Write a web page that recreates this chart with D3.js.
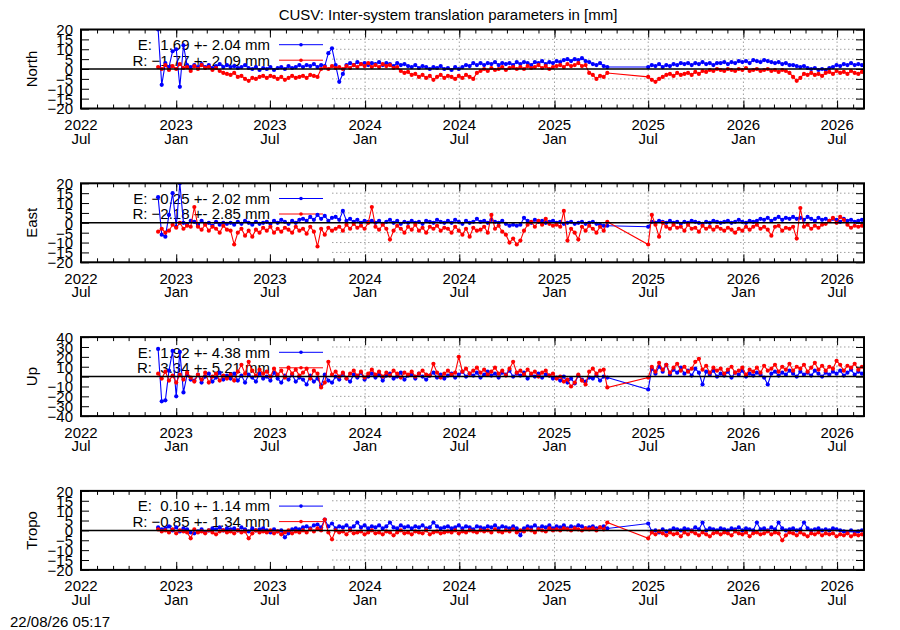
<!DOCTYPE html>
<html>
<head>
<meta charset="utf-8">
<script src="https://cdn.jsdelivr.net/npm/d3@7"></script>
<style>
  body { margin: 0; background: #fff; }
  text { font-family: "Liberation Sans", Arial, sans-serif; font-size: 15px; fill: #000; }
</style>
</head>
<body>
<div id="chart"></div>
<script>
// ---- data (roughly weekly samples) ----
var titleText = "CUSV: Inter-system translation parameters in [mm]";
var stampText = "22/08/26 05:17";
var panelNames = ["North", "East", "Up", "Tropo"];
var yLimits = [20, 20, 40, 20];
var ticks20 = [-20, -15, -10, -5, 0, 5, 10, 15, 20];
var ticks40 = [-40, -30, -20, -10, 0, 10, 20, 30, 40];
var xMajorLabels = ["2022-07", "2023-01", "2023-07", "2024-01", "2024-07", "2025-01", "2025-07", "2026-01", "2026-07"];

var eMean = [1.69, -0.25, 1.92, 0.10], eSd = [2.04, 2.02, 4.38, 1.14];
var rMean = [-1.77, -2.18, 3.34, -0.85], rSd = [2.09, 2.85, 5.21, 1.34];

// sampling dates: before and after the data gap
var seg1Dates = d3.timeDay.range(new Date(2022, 10, 27), new Date(2025, 3, 14), 7);
var seg2Dates = d3.timeDay.range(new Date(2025, 6, 1), new Date(2026, 7, 22), 7);

var northE1 = [20,-8,3,1,9,10,-9,12,2,1, 2,1,2.5,1,2,0.5,1.5,2.5,1,2, 1,1.5,0.5,1,2,0.5,0,1,-0.5,0.5,
  0,1,-0.5,0.5,1,0,1.5,0.5,1,2, 1,2,1.5,2.5,1,2,1.5,8,10.5,2, -6.5,-2.5,2,3,2,3.5,2.5,3,2,3,
  2.5,3.5,2,3,2.5,1.5,3,2,2.5,1.5, 1,2,0.5,1.5,1,0,1,0.5,1.5,0, 0.5,-0.5,1,0,1,2,1.5,3,2,3,
  2,3,2.5,3.5,2,3,2.5,3,2,3.5, 2.5,3.5,3,2,3.5,3,4,2.5,3.5,3, 4,3.5,4.5,5,4,5,4.5,5.5,4,3.5, 2.5,2,3,1.5,1];
var northE2 = [1,2,1.5,2.5,1,2,1.5,2.5,2,3, 2.5,3,2,3,2.5,3.5,2.5,3,2,3, 3,3.5,2.5,3.5,3,4,3.5,4,3,4.5,
  4,3.5,4.5,4,3.5,3,3.5,2.5,3,2, 2,1.5,1,1.5,0.5,0,0.5,-0.5,0,-0.5, 0.5,1,2,1.5,2.5,2,3,2,2.5,2];
var northR1 = [1,0,2,-0.5,1.5,0,2.5,0.5,1,-1, 1.5,0,2,0.5,1,-0.5,0.5,-1,-2,-2.5, -3,-2,-4,-3.5,-5,-6,-4.5,-5,-4,-3.5,
  -4.5,-3.5,-4,-5,-4,-5.5,-4.5,-3.5,-4.5,-4, -3.5,-4.5,-3,-3.5,-4,0,1,0,1.5,0.5, 1,0,1.5,0.5,2,1,2.5,1.5,3,1,
  2,1,2.5,1.5,2,0.5,1,-1,-2,-1.5, -3,-2.5,-4,-3,-4.5,-3.5,-5.5,-4,-3,-4.5, -3.5,-4,-5,-3.5,-4.5,-3,-4,-5,-2,-1,
  0,-1,0.5,-0.5,0,1,-0.5,0.5,1,0, 1,0,1.5,0.5,1,2,0.5,1.5,0,1, 1.5,2,1,2.5,1.5,2,3,1.5,2,-2, -3,-5,-3.5,-4,-2];
var northR2 = [-4,-5.5,-6.5,-5,-4,-3,-2.5,-3.5,-2,-3, -2.5,-2,-3,-1.5,-2.5,-1,-1.5,-0.5,-1,0, -0.5,-1,0,-0.5,-1,0,-0.5,0.5,-1,-0.5,
  0,-1,-0.5,0,-1,-0.5,-1.5,-0.5,-1,-2, -4,-6,-4.5,-2.5,-3,-2,-3,-2.5,-3.5,-2, -1.5,-2.5,-1,-2,-1.5,-2.5,-1,-2,-2.5,-1.5];

var eastE1 = [13,-6,-7,4,15,-2,20,0,-1,1, 0.5,-1,1,-0.5,0,-1.5,0.5,-1,0,-0.5, 0,-1,0.5,-0.5,1,0,-1,0.5,-0.5,0,
  0.5,-0.5,1,0,1.5,0.5,-0.5,1,0,1.5, 2,1,3,1.5,4,2,3.5,1,2.5,3, 1.5,6,1,2,0.5,1.5,0,1,0.5,1,
  0,1,-0.5,0.5,1.5,0,1,-0.5,0.5,0, 1,0,0.5,-0.5,1,0.5,0,1.5,0.5,0, 1,0,1.5,0.5,-0.5,1,0,0.5,2,0.5,
  1,0,1.5,0.5,0,1,-0.5,-1.5,-1,-1.5, -1,2.5,1,0,1.5,0.5,1,0,0.5,1, 0,0.5,-0.5,0,0.5,-0.5,0,0.5,-0.5,0, 0.5,-0.5,-1,-1.5,-1.5];
var eastE2 = [-2,0.5,0,1,0.5,0,1,0,0.5,-0.5, 0.5,0,1,0.5,0,-0.5,0.5,0,1,0.5, 0,0.5,1,0,0.5,1.5,0.5,0,1,0.5,
  1,2,1.5,2.5,1,2,3,1.5,2.5,2, 3,2,2.5,1.5,3,2,1,2.5,1.5,2, 1,2,1.5,0.5,2,1,1.5,0.5,1,1.5];
var eastR1 = [-4.5,-3,-5,-4,-1,-2.5,0,-3,-1.5,-2, 8,-2,-3.5,-1,-4,-2,-3,-5,-1.5,-3.5, -4,-11,-5,-3,-6.5,-4,-7,-3.5,-5,-2.5,
  -4,-2,-5,-3,-4.5,-2.5,-3.5,-5,-2,-4, -3,-5.5,-2,-4.5,-12,-3,-6,-2.5,-4,-3, -2,-4,-1,-3,-0.5,-2.5,-1.5,-3,0,8,
  -2,-3.5,-1,-3,-8.5,-4,-1.5,-3,-5,-2, -3.5,-1,-4,-2.5,-5,-2,-3,-1.5,-4,-2.5, -3,-5,-2,-4,-6,-3,-7,-2.5,-4,-3.5,
  -2,-5,4,-3,-1.5,-4.5,-6,-10,-8,-11, -9,-4,-1,0.5,-2,1,-1,2,-0.5,-1.5, -1,-2,6,-9,-3,-5,-8.5,-2,-4,-1.5, -3,-5,-2,-4,0.5];
var eastR2 = [-11,4,-1,-7,0,-2,-3,-1,-2.5,-2, -4,-1,-3,-2.5,-4.5,-1.5,-3,-2,-3.5,-2, -3,-4,-2.5,-3.5,-5,-3,-4,-2,-3.5,-2,
  -1,-3,-2,-3.5,-6.5,-2,-1.5,-4,-2.5,-3, -2,-8,7.5,-2,-1,-3,-1.5,-2.5,-1,-0.5, 1,2.5,0,3,1.5,-1,-2.5,-1.5,-2,-1.5];

var upE1 = [28,-25,-24,6,26,-20,25,-16,2,-3, -4,2,-6,0,3,-5,-1,4,-3,1, -2,3,-4,1,-6,2,-1,-5,3,-2,
  0,-4,4,-2,-6,1,-3,2,-5,-1, -3,-8,1,-5,-2,-9,2,-4,-6,0, -3,3,-2,-5,2,-1,4,-3,0,3,
  -1,2,-4,1,3,-2,0,4,-3,1, 2,-2,3,0,-3,1,4,-1,2,-2, 1,3,-1,2,5,0,3,1,4,-1,
  2,5,1,3,-1,4,2,6,0,3, 1,4,-2,2,0,3,-1,2,1,-2, -1,-4,0,-6,-2,-7,1,-3,-5,-1, -2,1,-4,0,-1];
var upE2 = [-13,8,3,10,5,12,2,7,4,9, 3,6,1,8,4,-8,5,2,6,0, 3,1,5,-1,4,2,6,0,3,1,
  4,2,-1,-8,3,5,1,4,2,6, 3,0,5,2,4,1,6,3,0,4, 2,5,3,6,1,4,7,2,5,3];
var upR1 = [3,-2,5,-4,1,-6,2,-3,4,-1, -5,2,-3,4,-6,0,3,-4,1,-2, 2,-4,5,12,3,15,6,1,7,3,
  5,0,8,2,6,-1,9,3,7,1, 4,8,-2,6,3,-11,-6,15,2,5, 0,4,-2,3,6,1,5,-1,3,7,
  2,5,0,4,1,6,3,-1,4,2, 5,0,3,6,2,1,13,4,-1,3, 6,2,4,20,5,8,3,6,9,4,
  7,2,5,9,3,6,1,8,15,4, 6,2,7,3,5,0,4,6,1,3, -2,0,-5,-3,-10,-6,2,-4,-8,5, 8,3,6,7,-11];
var upR2 = [-1,10,5,14,7,12,4,9,13,6, 10,5,8,15,18,7,11,4,9,6, 8,3,7,10,4,6,9,2,7,5,
  9,4,11,6,8,12,5,10,7,13, 6,10,8,12,5,9,14,7,11,6, 10,8,16,12,6,11,9,13,7,10];

var tropoE1 = [1.5,0.5,1,2,0,1.5,-0.5,1,0.5,-1, -1.5,-0.5,0.5,-1,0,1,0.5,1.5,0,1, 0.5,1,0,1.5,0.5,-0.5,1,0,0.5,1,
  0,-1,0.5,-0.5,0,-3.5,-1.5,0.5,1,0.5, 1.5,2,1,2.5,3,1.5,5.5,2,3.5,1, 2,1.5,2.5,1,2,4,1.5,2.5,1,2,
  1.5,2.5,1,2,4,1.5,1,2.5,1.5,2, 1,2,1.5,2.5,1,1.5,4,2,1,1.5, 2,1,1.5,2.5,1,2,1.5,0.5,2,1.5,
  1,2,1.5,2.5,1,2,1.5,1,2,1, -2.5,1,2,1.5,2.5,1,2,1.5,2.5,1, 2,1.5,2.5,1,2,1.5,2.5,2,1,1.5, 2,1,1.5,2,1];
var tropoE2 = [3.5,-0.5,0,-1,0.5,-0.5,0,1,0.5,0, 1,0.5,0,1.5,0.5,4,0,1,0.5,0, 1,0.5,0,1,0.5,1.5,0,1,0.5,0,
  4,0.5,1,0,1.5,0.5,4,1,0,0.5, 1,0,0.5,4,1,0,0.5,1,0,0.5, 0,1,0.5,0,-0.5,-1,0,-1,-0.5,0];
var tropoR1 = [0.5,-0.5,0,-1,0.5,-1.5,0,-0.5,-1,-4, 0.5,-1,-0.5,-1.5,0,-1,-2,-0.5,0,-1, -0.5,-1.5,0,-1,-0.5,-4,-1.5,0,-1,-0.5,
  -1,0,-1.5,-0.5,-2,-1,0,-1.5,-0.5,-1, 0,-1,0.5,-0.5,1,0,5.5,-1,-4.5,0, -1,-0.5,-2,0,-1.5,-1,-0.5,-2,-1,0,
  -1.5,-1,-2,-0.5,-1,-2.5,-1,0,-1.5,-1, -2,-0.5,-1,-1.5,0,-2,-1,-0.5,-1.5,-1, -0.5,-1,0,-1.5,-0.5,-1,0,-0.5,-1,0,
  -0.5,0,-1,0.5,-0.5,-1,0,-0.5,0.5,-1, 0,-0.5,0.5,0,-1,0.5,0,-0.5,1,0, 0.5,0,1,0.5,0,1,0.5,0,1,0.5, 1,0,1.5,0.5,4];
var tropoR2 = [-4,-1,-2,-0.5,-1.5,-2.5,-1,-2,-1.5,-3, -1,-2,-0.5,-1.5,-2.5,-1,-2,-3,-1.5,-1, -2,-1,-1.5,-2.5,-0.5,-1.5,-2,-1,-3,-1.5,
  -1,-2,-1.5,-0.5,-2,-1,-1.5,-5,-2.5,-1, -1.5,-2.5,-1,-2,-3,-1.5,-2,-1,-2.5,-1.5, -2,-1.5,-3,-2,-2.5,-1.5,-3,-2,-2.5,-2];

var seriesE = [[northE1, northE2], [eastE1, eastE2], [upE1, upE2], [tropoE1, tropoE2]];
var seriesR = [[northR1, northR2], [eastR1, eastR2], [upR1, upR2], [tropoR1, tropoR2]];

// ---- layout ----
var width = 900, height = 630;
var plotLeft = 81, plotRight = 864;
var panelTop0 = 29.5, panelStep = 153.8, panelH = 79;
var gridX0 = 332;               // grid is hidden behind the key on the left
var blue = "#0000ff", red = "#ff0000";
var dotR = 2.1;

function toPoints(pair) {
  var a = pair[0].map(function (v, i) { return { date: seg1Dates[i], value: v }; })
    .filter(function (d) { return d.date; });
  var b = pair[1].map(function (v, i) { return { date: seg2Dates[i], value: v }; })
    .filter(function (d) { return d.date; });
  return a.concat(b);
}

var parseMonth = d3.timeParse("%Y-%m");
var xMajor = xMajorLabels.map(parseMonth);

var x = d3.scaleTime()
  .domain([new Date(2022, 6, 1), new Date(2026, 7, 22)])
  .range([plotLeft, plotRight]);
var xMinor = d3.timeMonth.range(x.domain()[0], x.domain()[1]);

var svg = d3.select("#chart").append("svg")
  .attr("width", width)
  .attr("height", height);

svg.append("rect").attr("width", width).attr("height", height).attr("fill", "#fff");

svg.append("text")
  .attr("x", 448).attr("y", 20)
  .attr("text-anchor", "middle")
  .text(titleText);

svg.append("text")
  .attr("x", 10).attr("y", 627)
  .text(stampText);

var fmtVal = d3.format("5.2f");

panelNames.forEach(function (name, i) {
  var top = panelTop0 + i * panelStep,
      bottom = top + panelH,
      lim = yLimits[i],
      yTicks = lim === 40 ? ticks40 : ticks20;

  var y = d3.scaleLinear().domain([-lim, lim]).range([bottom, top]);
  var g = svg.append("g");

  g.append("clipPath").attr("id", "clip" + i)
    .append("rect")
    .attr("x", plotLeft).attr("y", top)
    .attr("width", plotRight - plotLeft).attr("height", panelH);

  // grid
  g.selectAll(".hgrid")
    .data(yTicks.filter(function (v) { return v !== 0 && Math.abs(v) !== lim; }))
    .enter().append("line")
    .attr("x1", gridX0).attr("x2", plotRight)
    .attr("y1", function (d) { return y(d); })
    .attr("y2", function (d) { return y(d); })
    .attr("stroke", "#a0a0a0").attr("stroke-width", 1)
    .attr("stroke-dasharray", "1.5,2.5");

  g.selectAll(".vgrid")
    .data(xMajor.filter(function (d) { return x(d) >= gridX0; }))
    .enter().append("line")
    .attr("x1", function (d) { return x(d); })
    .attr("x2", function (d) { return x(d); })
    .attr("y1", top).attr("y2", bottom)
    .attr("stroke", "#a0a0a0").attr("stroke-width", 1)
    .attr("stroke-dasharray", "1.5,2.5");

  // y label
  g.append("text")
    .attr("transform", "translate(37," + (top + panelH / 2) + ") rotate(-90)")
    .attr("text-anchor", "middle")
    .text(name);

  // key
  var keyRows = [
    { label: "E: " + fmtVal(eMean[i]) + " +- " + fmtVal(eSd[i]).trim() + " mm", color: blue, dy: 20.5, ly: 15.2 },
    { label: "R: " + fmtVal(rMean[i]) + " +- " + fmtVal(rSd[i]).trim() + " mm", color: red, dy: 36, ly: 30.7 }
  ];
  keyRows.forEach(function (k) {
    g.append("text")
      .attr("x", 270).attr("y", top + k.dy)
      .attr("text-anchor", "end")
      .style("white-space", "pre")
      .text(k.label);
    g.append("line")
      .attr("x1", 279).attr("x2", 323)
      .attr("y1", top + k.ly).attr("y2", top + k.ly)
      .attr("stroke", k.color).attr("stroke-width", 1);
    g.append("circle")
      .attr("cx", 301).attr("cy", top + k.ly).attr("r", 1.8)
      .attr("fill", k.color);
  });

  // data
  var line = d3.line()
    .x(function (d) { return x(d.date); })
    .y(function (d) { return y(d.value); });

  var plot = g.append("g").attr("clip-path", "url(#clip" + i + ")");
  [[seriesE[i], blue], [seriesR[i], red]].forEach(function (s) {
    var pts = toPoints(s[0]);
    plot.append("path")
      .datum(pts)
      .attr("d", line)
      .attr("fill", "none")
      .attr("stroke", s[1])
      .attr("stroke-width", 1.1);
    plot.append("g").selectAll("circle")
      .data(pts)
      .enter().append("circle")
      .attr("cx", function (d) { return x(d.date); })
      .attr("cy", function (d) { return y(d.value); })
      .attr("r", dotR)
      .attr("fill", s[1]);
  });

  // zero line
  g.append("line")
    .attr("x1", plotLeft).attr("x2", plotRight)
    .attr("y1", y(0)).attr("y2", y(0))
    .attr("stroke", "#000").attr("stroke-width", 1.5);

  // ticks
  function styleAxis(a) {
    a.select(".domain").remove();
    a.selectAll(".tick line").attr("stroke", "#000");
    a.attr("font-size", null).attr("font-family", null);
  }
  g.append("g").attr("transform", "translate(0," + bottom + ")")
    .call(d3.axisBottom(x).tickValues(xMajor).tickSizeInner(-8).tickSizeOuter(0).tickFormat(""))
    .call(styleAxis);
  g.append("g").attr("transform", "translate(0," + bottom + ")")
    .call(d3.axisBottom(x).tickValues(xMinor).tickSizeInner(-4).tickSizeOuter(0).tickFormat(""))
    .call(styleAxis);
  g.append("g").attr("transform", "translate(0," + top + ")")
    .call(d3.axisTop(x).tickValues(xMajor).tickSizeInner(-8).tickSizeOuter(0).tickFormat(""))
    .call(styleAxis);
  g.append("g").attr("transform", "translate(0," + top + ")")
    .call(d3.axisTop(x).tickValues(xMinor).tickSizeInner(-4).tickSizeOuter(0).tickFormat(""))
    .call(styleAxis);
  g.append("g").attr("transform", "translate(" + plotLeft + ",0)")
    .call(d3.axisLeft(y).tickValues(yTicks).tickSizeInner(-8).tickSizeOuter(0).tickPadding(8).tickFormat(d3.format("d")))
    .call(styleAxis)
    .selectAll("text").attr("dy", "0.36em");
  g.append("g").attr("transform", "translate(" + plotRight + ",0)")
    .call(d3.axisRight(y).tickValues(yTicks).tickSizeInner(-8).tickSizeOuter(0).tickFormat(""))
    .call(styleAxis);

  // border
  g.append("rect")
    .attr("x", plotLeft).attr("y", top)
    .attr("width", plotRight - plotLeft).attr("height", panelH)
    .attr("fill", "none").attr("stroke", "#000").attr("stroke-width", 2);

  // x tick labels (year / month)
  var fmtYear = d3.timeFormat("%Y"), fmtMon = d3.timeFormat("%b");
  g.selectAll(".xl1").data(xMajor).enter().append("text")
    .attr("x", function (d) { return x(d); })
    .attr("y", bottom + 21.5)
    .attr("text-anchor", "middle")
    .text(fmtYear);
  g.selectAll(".xl2").data(xMajor).enter().append("text")
    .attr("x", function (d) { return x(d); })
    .attr("y", bottom + 35)
    .attr("text-anchor", "middle")
    .text(fmtMon);
});
</script>
</body>
</html>
